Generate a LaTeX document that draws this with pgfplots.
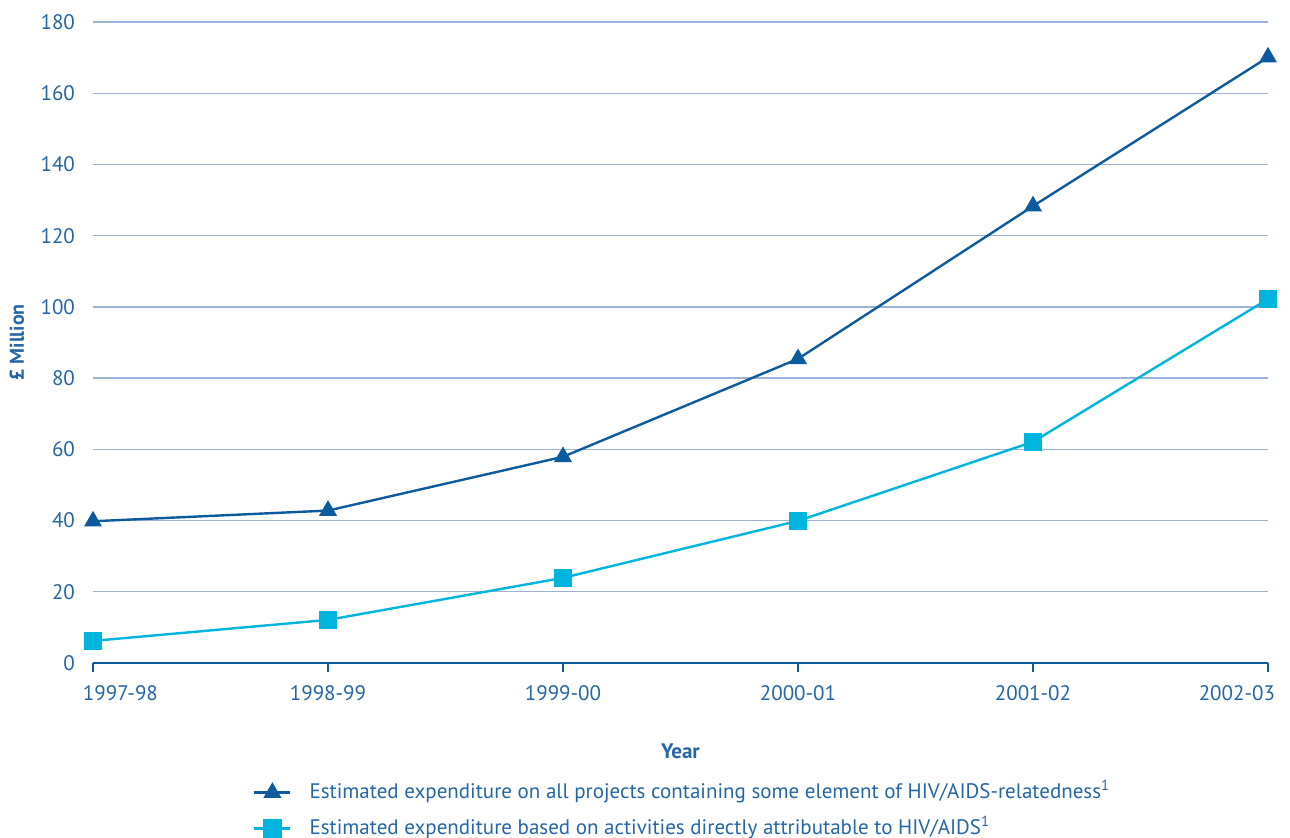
\documentclass[border=0pt]{standalone}
\usepackage{pgfplots}
\pgfplotsset{compat=1.18}
\usepackage{fontspec}
\setmainfont{PT Sans}
\definecolor{dblue}{HTML}{0B5B9E}
\definecolor{cyanb}{HTML}{00B5DD}
\definecolor{txtblue}{HTML}{2466A6}
\definecolor{gridb}{HTML}{9DB3D6}
\begin{document}
\begin{tikzpicture}
\begin{axis}[
  at={(0,0)}, anchor=origin,
  scale only axis,
  width=587.5pt, height=320.5pt,
  xmin=0, xmax=5, ymin=0, ymax=180,
  axis x line*=bottom, axis y line*=left,
  x axis line style={draw=dblue, line width=0.8pt},
  y axis line style={draw=none},
  xtick={0,1,2,3,4,5},
  xticklabel={\ifcase\ticknum \rlap{\kern-5pt 1997-98}\or 1998-99\or 1999-00\or 2000-01\or 2001-02\or \llap{2002-03\kern-3.5pt}\fi},
  ytick={0,20,...,180},
  tick align=outside,
  major tick length=4.5pt,
  xtick style={draw=dblue, line width=0.8pt},
  ytick style={draw=none},
  ymajorgrids,
  grid style={draw=gridb, line width=0.7pt},
  every tick label/.style={font=\fontsize{10.5}{12}\selectfont, text=txtblue},
  /pgf/number format/assume math mode=true,
  xticklabel style={yshift=-3pt},
  yticklabel style={xshift=-1pt},
  xlabel={\textbf{Year}},
  xlabel style={font=\fontsize{10.5}{12}\selectfont, text=txtblue, at={(axis description cs:0.5,0)}, anchor=center, yshift=-44pt},
  ylabel={\textbf{£ Million}},
  ylabel style={font=\fontsize{10}{12}\selectfont, text=txtblue, at={(axis description cs:-0.0647,0.5)}, anchor=center},
  legend style={draw=none, fill=none, at={(axis description cs:0.136,-0.186)}, anchor=north west,
    font=\fontsize{10.5}{12}\selectfont, text=txtblue, row sep=8pt, inner sep=0pt,
    nodes={inner ysep=0pt, inner xsep=9pt, text height=8pt, text depth=2pt}},
  legend cell align=left,
  legend image code/.code={
    \draw[#1, mark=none] (0pt,0pt) -- (18pt,0pt);
    \draw[#1, only marks] plot coordinates {(9pt,0pt)};
  },
]
\addplot[color=dblue, line width=1.2pt, mark=triangle*, mark size=4pt, mark options={fill=dblue, draw=dblue}]
  coordinates {(0,39.8) (1,42.8) (2,57.9) (3,85.4) (4,128.3) (5,170.1)};
\addlegendentry{Estimated expenditure on all projects containing some element of HIV/AIDS-relatedness\textsuperscript{1}}
\addplot[color=cyanb, line width=1.2pt, mark=square*, mark size=4pt, mark options={fill=cyanb, draw=cyanb}]
  coordinates {(0,6.2) (1,12.1) (2,23.9) (3,39.9) (4,62.1) (5,102.2)};
\addlegendentry{Estimated expenditure based on activities directly attributable to HIV/AIDS\textsuperscript{1}}
\end{axis}
\pgfresetboundingbox
\path[use as bounding box] (-46.5pt,-87.5pt) rectangle (598.5pt,331.5pt);
\end{tikzpicture}
\end{document}
